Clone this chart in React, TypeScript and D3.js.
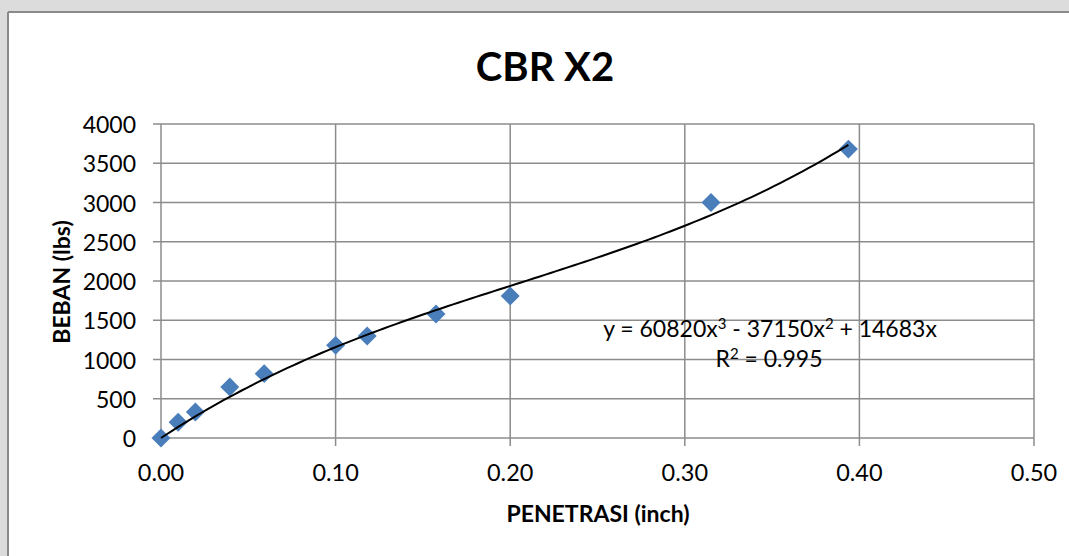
import { line, range, scaleLinear, symbol, symbolSquare } from "d3";
import type { ReactElement } from "react";

// penetration (inch) vs load (lbs)
const penetration = [0, 0.0098, 0.0197, 0.0394, 0.0591, 0.1, 0.1181, 0.1575, 0.2, 0.315, 0.3937];
const load = [0, 200, 330, 650, 820, 1180, 1300, 1580, 1810, 3000, 3680];

const xTicks = [0, 0.1, 0.2, 0.3, 0.4, 0.5];
const yTicks = [0, 500, 1000, 1500, 2000, 2500, 3000, 3500, 4000];

// polynomial trendline coefficients shown on the chart
const coef = { a: 60820, b: -37150, c: 14683 };

const FONT = "Lato, 'Open Sans', sans-serif";
const GRID = "#8c8c8c";

const App = (): ReactElement => {
  const width = 1069;
  const height = 556;

  const xScale = scaleLinear().domain([0, 0.5]).range([161, 1034]);
  const yScale = scaleLinear().domain([0, 4000]).range([438, 124]);

  const trend = (x: number): number => coef.a * x ** 3 + coef.b * x ** 2 + coef.c * x;
  const trendXs = range(0, 0.3937 + 1e-9, 0.3937 / 120);
  const trendPath = line<number>()
    .x((d) => xScale(d))
    .y((d) => yScale(trend(d)))(trendXs);

  const diamond = symbol().type(symbolSquare).size(180)();

  return (
    <svg
      width={width}
      height={height}
      viewBox={`0 0 ${width} ${height}`}
      style={{ position: "absolute", left: 0, top: 0, background: "#ffffff" }}
    >
      {/* page backdrop */}
      <rect x={0} y={0} width={width} height={12} fill="#dcdcdc" />
      <rect x={0} y={0} width={8} height={height} fill="#dcdcdc" />
      <line x1={8} x2={width} y1={12} y2={12} stroke="#8a8a8a" strokeWidth={2} />
      <line x1={8} x2={8} y1={12} y2={height} stroke="#8a8a8a" strokeWidth={2} />

      <text x={545} y={81} textAnchor="middle" fontFamily={FONT} fontWeight={700} fontSize={40} fill="#000">
        CBR X2
      </text>

      {yTicks.map((t) => (
        <g key={`y-${t}`}>
          <line x1={153} x2={xScale(0.5)} y1={yScale(t)} y2={yScale(t)} stroke={GRID} strokeWidth={1.5} />
          <text
            x={136}
            y={yScale(t)}
            textAnchor="end"
            dominantBaseline="central"
            fontFamily={FONT}
            fontSize={23}
            fill="#000"
          >
            {t}
          </text>
        </g>
      ))}

      {xTicks.map((t) => (
        <g key={`x-${t}`}>
          <line x1={xScale(t)} x2={xScale(t)} y1={yScale(4000)} y2={446} stroke={GRID} strokeWidth={1.5} />
          <text x={xScale(t)} y={481} textAnchor="middle" fontFamily={FONT} fontSize={23.5} fill="#000">
            {t.toFixed(2)}
          </text>
        </g>
      ))}

      <text
        transform={`translate(70, 282) rotate(-90)`}
        textAnchor="middle"
        fontFamily={FONT}
        fontWeight={700}
        fontSize={23}
        fill="#000"
      >
        BEBAN (lbs)
      </text>
      <text x={598} y={522} textAnchor="middle" fontFamily={FONT} fontWeight={700} fontSize={23} fill="#000">
        PENETRASI (inch)
      </text>

      {penetration.map((p, i) => (
        <path
          key={`pt-${i}`}
          d={diamond ?? ""}
          transform={`translate(${xScale(p)}, ${yScale(load[i])}) rotate(45)`}
          fill="#4a7ebb"
        />
      ))}

      <path d={trendPath ?? ""} fill="none" stroke="#000" strokeWidth={2} />

      <text x={770} y={337} textAnchor="middle" fontFamily={FONT} fontSize={23} fill="#000">
        y = 60820x<tspan fontSize={15} dy={-8}>3</tspan>
        <tspan dy={8}> - 37150x</tspan>
        <tspan fontSize={15} dy={-8}>2</tspan>
        <tspan dy={8}> + 14683x</tspan>
      </text>
      <text x={769} y={367} textAnchor="middle" fontFamily={FONT} fontSize={23} fill="#000">
        R<tspan fontSize={15} dy={-8}>2</tspan>
        <tspan dy={8}> = 0.995</tspan>
      </text>
    </svg>
  );
};

export default App;
